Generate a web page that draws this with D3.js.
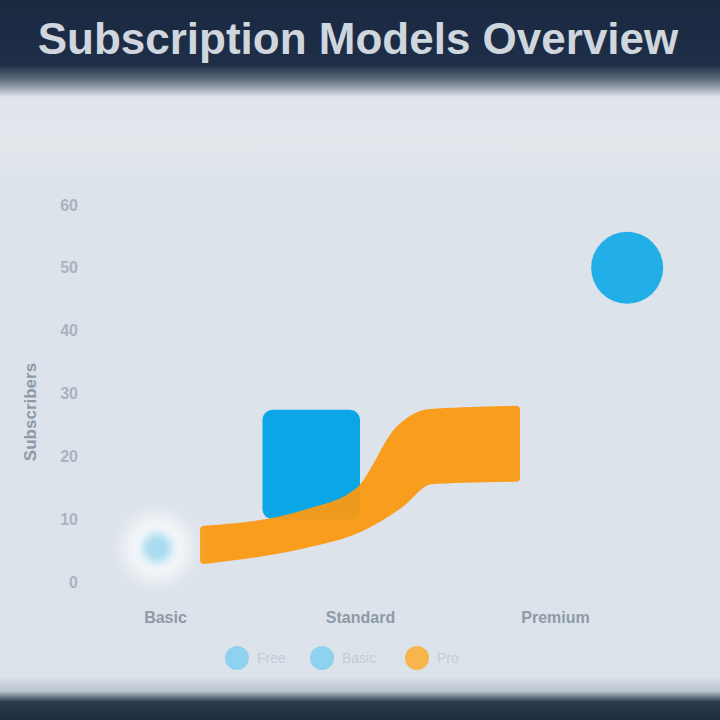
<!DOCTYPE html>
<html><head><meta charset="utf-8">
<script src="https://cdn.jsdelivr.net/npm/d3@7"></script>
<style>html,body{margin:0;padding:0;background:#dce3ea;}svg{display:block}</style>
</head><body>
<script>
// ---- data ----
const title = "Subscription Models Overview";
const categories = ["Basic", "Standard", "Premium"];
const categoryPos = [0, 1, 2];
const yTicks = [0, 10, 20, 30, 40, 50, 60];
const yTitle = "Subscribers";
const legendLabels = ["Free", "Basic", "Pro"];
// orange range area
const areaX = [0.2, 0.7, 1.0, 1.2, 1.36, 1.8];
const areaLow = [3.5, 5.9, 8.6, 12.3, 16.2, 16.6];
const areaHigh = [8.3, 10.7, 14.6, 24.2, 26.9, 27.4];
// blue floating bar
const barStart = [0.5], barEnd = [1.0], barLow = [10], barHigh = [27.4];
// blue bubbles
const pointX = [-0.04, 2.37];
const pointY = [5.4, 50];
const pointSize = [4, 24];

// ---- layout ----
const W = 720, H = 720;
const svg = d3.select("body").append("svg").attr("width", W).attr("height", H);
const defs = svg.append("defs");

const bg = defs.append("linearGradient").attr("id", "bg").attr("x1", 0).attr("y1", 0).attr("x2", 0).attr("y2", 1);
[[0, "#1a2840"], [0.09, "#1f2f48"], [0.11, "#5d6b7c"], [0.135, "#dfe5eb"], [0.2, "#e2e7ec"], [0.25, "#dce3ea"], [0.94, "#dce3ea"], [0.96, "#b9c3cd"], [0.975, "#2c3a4e"], [1, "#1f2c40"]]
  .forEach(([o, c]) => bg.append("stop").attr("offset", o).attr("stop-color", c));
svg.append("rect").attr("width", W).attr("height", H).attr("fill", "url(#bg)");

const soft = defs.append("filter").attr("id", "soft").attr("x", "-50%").attr("y", "-50%").attr("width", "200%").attr("height", "200%");
soft.append("feGaussianBlur").attr("stdDeviation", 8);
const glow = defs.append("filter").attr("id", "glow").attr("x", "-50%").attr("y", "-50%").attr("width", "200%").attr("height", "200%");
glow.append("feGaussianBlur").attr("stdDeviation", 4);

svg.append("text").attr("x", W / 2 - 2).attr("y", 54).attr("text-anchor", "middle")
  .attr("font-family", "Liberation Sans, Arial, sans-serif").attr("font-weight", "bold")
  .attr("font-size", 44).attr("fill", "#cfd6de").text(title);

const x = d3.scaleLinear().domain([-0.4, 2.6]).range([87, 672]);
const y = d3.scaleLinear().domain([0, 60]).range([582, 205]);
const r = d3.scaleSqrt().domain([0, 24]).range([0, 36]);

// y axis
const yAxis = svg.append("g").attr("transform", "translate(86,0)")
  .call(d3.axisLeft(y).tickValues(yTicks).tickSize(0).tickPadding(8));
yAxis.select(".domain").remove();
yAxis.selectAll("text").attr("font-family", "Liberation Sans, Arial, sans-serif")
  .attr("font-size", 16).attr("font-weight", "bold").attr("fill", "#a9b4c0");

svg.append("text").attr("transform", "translate(36,412) rotate(-90)").attr("text-anchor", "middle")
  .attr("font-family", "Liberation Sans, Arial, sans-serif").attr("font-weight", "bold")
  .attr("font-size", 17).attr("fill", "#8e9aa8").text(yTitle);

// x axis labels
const xAxis = svg.append("g").attr("transform", "translate(0,606)")
  .call(d3.axisBottom(x).tickValues(categoryPos).tickFormat((d, i) => categories[i]).tickSize(0).tickPadding(6));
xAxis.select(".domain").remove();
xAxis.selectAll("text").attr("font-family", "Liberation Sans, Arial, sans-serif")
  .attr("font-size", 16).attr("font-weight", "bold").attr("fill", "#8f9aa7");

// blue floating bar
svg.selectAll(".bar").data(barStart).join("rect").attr("class", "bar")
  .attr("x", (d, i) => x(barStart[i])).attr("width", (d, i) => x(barEnd[i]) - x(barStart[i]))
  .attr("y", (d, i) => y(barHigh[i])).attr("height", (d, i) => y(barLow[i]) - y(barHigh[i]))
  .attr("rx", 10).attr("fill", "#0aa6e5");

// orange range area
const areaData = areaX.map((v, i) => ({ x: v, lo: areaLow[i], hi: areaHigh[i] }));
svg.append("path").datum(areaData)
  .attr("d", d3.area().x(d => x(d.x)).y0(d => y(d.lo)).y1(d => y(d.hi)).curve(d3.curveMonotoneX))
  .attr("fill", "#fb9a14").attr("opacity", 0.95)
  .attr("stroke", "#fb9a14").attr("stroke-width", 8).attr("stroke-linejoin", "round");

// bubbles
const pts = pointX.map((v, i) => ({ x: v, y: pointY[i], s: pointSize[i] }));
svg.selectAll(".halo").data(pts.slice(0, 1)).join("circle").attr("class", "halo")
  .attr("cx", d => x(d.x)).attr("cy", d => y(d.y)).attr("r", 34)
  .attr("fill", "#f4f7f9").attr("filter", "url(#soft)");
svg.selectAll(".pt").data(pts).join("circle").attr("class", "pt")
  .attr("cx", d => x(d.x)).attr("cy", d => y(d.y)).attr("r", d => r(d.s))
  .attr("fill", (d, i) => i === 0 ? "#a8dcf0" : "#22aee7")
  .attr("filter", (d, i) => i === 0 ? "url(#glow)" : null);

// legend
const legendColors = ["#8fd2ef", "#8fd2ef", "#f8b54a"];
const legendX = [237, 322, 417];
const lg = svg.append("g");
legendLabels.forEach((l, i) => {
  lg.append("circle").attr("cx", legendX[i]).attr("cy", 658).attr("r", 12).attr("fill", legendColors[i]);
  lg.append("text").attr("x", legendX[i] + 20).attr("y", 663)
    .attr("font-family", "Liberation Sans, Arial, sans-serif").attr("font-size", 14)
    .attr("fill", "#c3ccd6").text(l);
});
</script>
</body></html>
